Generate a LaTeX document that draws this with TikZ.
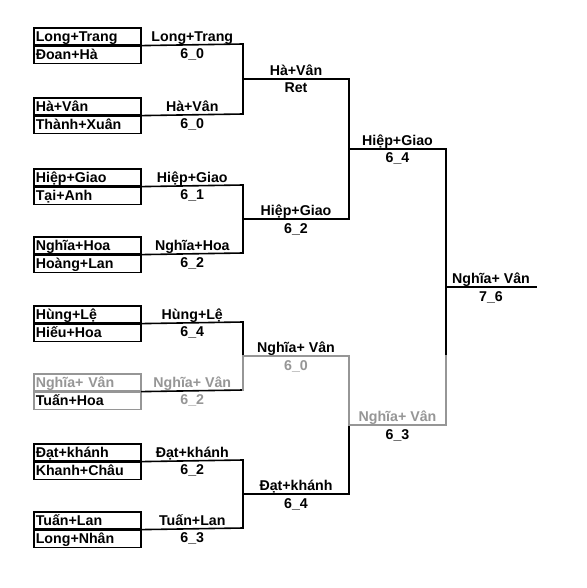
\documentclass[tikz,border=0pt]{standalone}
\usepackage{fontspec}
\setmainfont{Liberation Sans}
\usetikzlibrary{positioning,calc}
\definecolor{lossgray}{RGB}{150,150,150}
\tikzset{
  cell/.style={draw, line width=1.6pt, minimum width=107pt, minimum height=17pt,
    inner xsep=2pt, inner ysep=0pt, text width=103pt, align=left,
    text height=12.5pt, text depth=2.5pt, anchor=north west},
  bline/.style={line width=1.6pt, line cap=rect},
  wintext/.style={anchor=base, yshift=3.5pt, inner sep=0pt},
  scoretext/.style={anchor=base, yshift=-14pt, inner sep=0pt},
  keepblack/.style={},
  greyed/.style={draw=lossgray, text=lossgray},
  greyedge/.style={draw=lossgray},
  greytext/.style={text=lossgray},
}
\newcommand{\bfont}{\fontsize{14.2}{16}\selectfont\bfseries}

\begin{document}
\begin{tikzpicture}[x=1pt, y=-1pt, font=\bfont]
    % page frame
    \fill[white] (0,0) rectangle (586,588);
    \useasboundingbox (0,0) rectangle (586,588);
    % first round: pairs and their lines
    \foreach \k/\top/\pa/\pb/\win/\sc/\sta/\stb/\stl in {
      1/27/Long+Trang/Đoan+Hà/Long+Trang/6\_0/keepblack/keepblack/keepblack,
      2/97/Hà+Vân/Thành+Xuân/Hà+Vân/6\_0/keepblack/keepblack/keepblack,
      3/168/Hiệp+Giao/Tại+Anh/Hiệp+Giao/6\_1/keepblack/keepblack/keepblack,
      4/236/Nghĩa+Hoa/Hoàng+Lan/Nghĩa+Hoa/6\_2/keepblack/keepblack/keepblack,
      5/305/Hùng+Lệ/Hiếu+Hoa/Hùng+Lệ/6\_4/keepblack/keepblack/keepblack,
      6/373/Nghĩa+ Vân/Tuấn+Hoa/Nghĩa+ Vân/6\_2/greyed/greyedge/greytext,
      7/443/Đạt+khánh/Khanh+Châu/Đạt+khánh/6\_2/keepblack/keepblack/keepblack,
      8/511/Tuấn+Lan/Long+Nhân/Tuấn+Lan/6\_3/keepblack/keepblack/keepblack}{
      \node[cell,\sta] (a\k) at (33,\top) {\pa};
      \node[cell,\stb] (b\k) at (a\k.south west) {\pb};
      \coordinate (r\k) at (243,\top+17);
      \draw[bline] (a\k.south east) -- node[wintext,\stl] (w\k) {\win}
        node[scoretext,\stl] (s\k) {\sc} (r\k);
    }
    % second round
    \foreach \i/\u/\v in {1/1/2,2/3/4,3/5/6,4/7/8}{
      \coordinate (j\i) at ($(r\u)!0.5!(r\v)$);
      \coordinate (q\i) at ($(j\i)+(106,0)$);
    }
    \draw[bline] (r1) -- (r2);
    \draw[bline] (r3) -- (r4);
    \draw[bline] (r5) -- (j3);
    \draw[bline, lossgray] (j3) -- (r6);
    \draw[bline] (r7) -- (r8);
    \draw[bline] (j1) -- node[wintext] (x1) {Hà+Vân} node[scoretext] (y1) {Ret} (q1);
    \draw[bline] (j2) -- node[wintext] (x2) {Hiệp+Giao} node[scoretext] (y2) {6\_2} (q2);
    \draw[bline, lossgray] (j3) -- node[wintext, text=black] (x3) {Nghĩa+ Vân}
      node[scoretext] (y3) {6\_0} (q3);
    \draw[bline] (j4) -- node[wintext] (x4) {Đạt+khánh} node[scoretext] (y4) {6\_4} (q4);
    % third round
    \coordinate (k1) at ($(q1)!0.5!(q2)$);
    \coordinate (k2) at ($(q3)!0.5!(q4)$);
    \coordinate (p1) at ($(k1)+(97,0)$);
    \coordinate (p2) at ($(k2)+(97,0)$);
    \draw[bline] (q1) -- (q2);
    \draw[bline, lossgray] (q3) -- (k2);
    \draw[bline] (k2) -- (q4);
    \draw[bline] (k1) -- node[wintext] (z1) {Hiệp+Giao} node[scoretext] (v1) {6\_4} (p1);
    \draw[bline, lossgray] (k2) -- node[wintext] (z2) {Nghĩa+ Vân}
      node[scoretext, text=black] (v2) {6\_3} (p2);
    % final
    \coordinate (g) at ($(p1)!0.5!(p2)$);
    \coordinate (h) at ($(p1)!0.5!(p2)+(0,69)$);
    \coordinate (fin) at ($(g)+(90,0)$);
    \draw[bline] (p1) -- (h);
    \draw[bline, lossgray] (h) -- (p2);
    \draw[bline] (g) -- node[wintext] (champ) {Nghĩa+ Vân} node[scoretext] (cscore) {7\_6} (fin);
\end{tikzpicture}
\end{document}
